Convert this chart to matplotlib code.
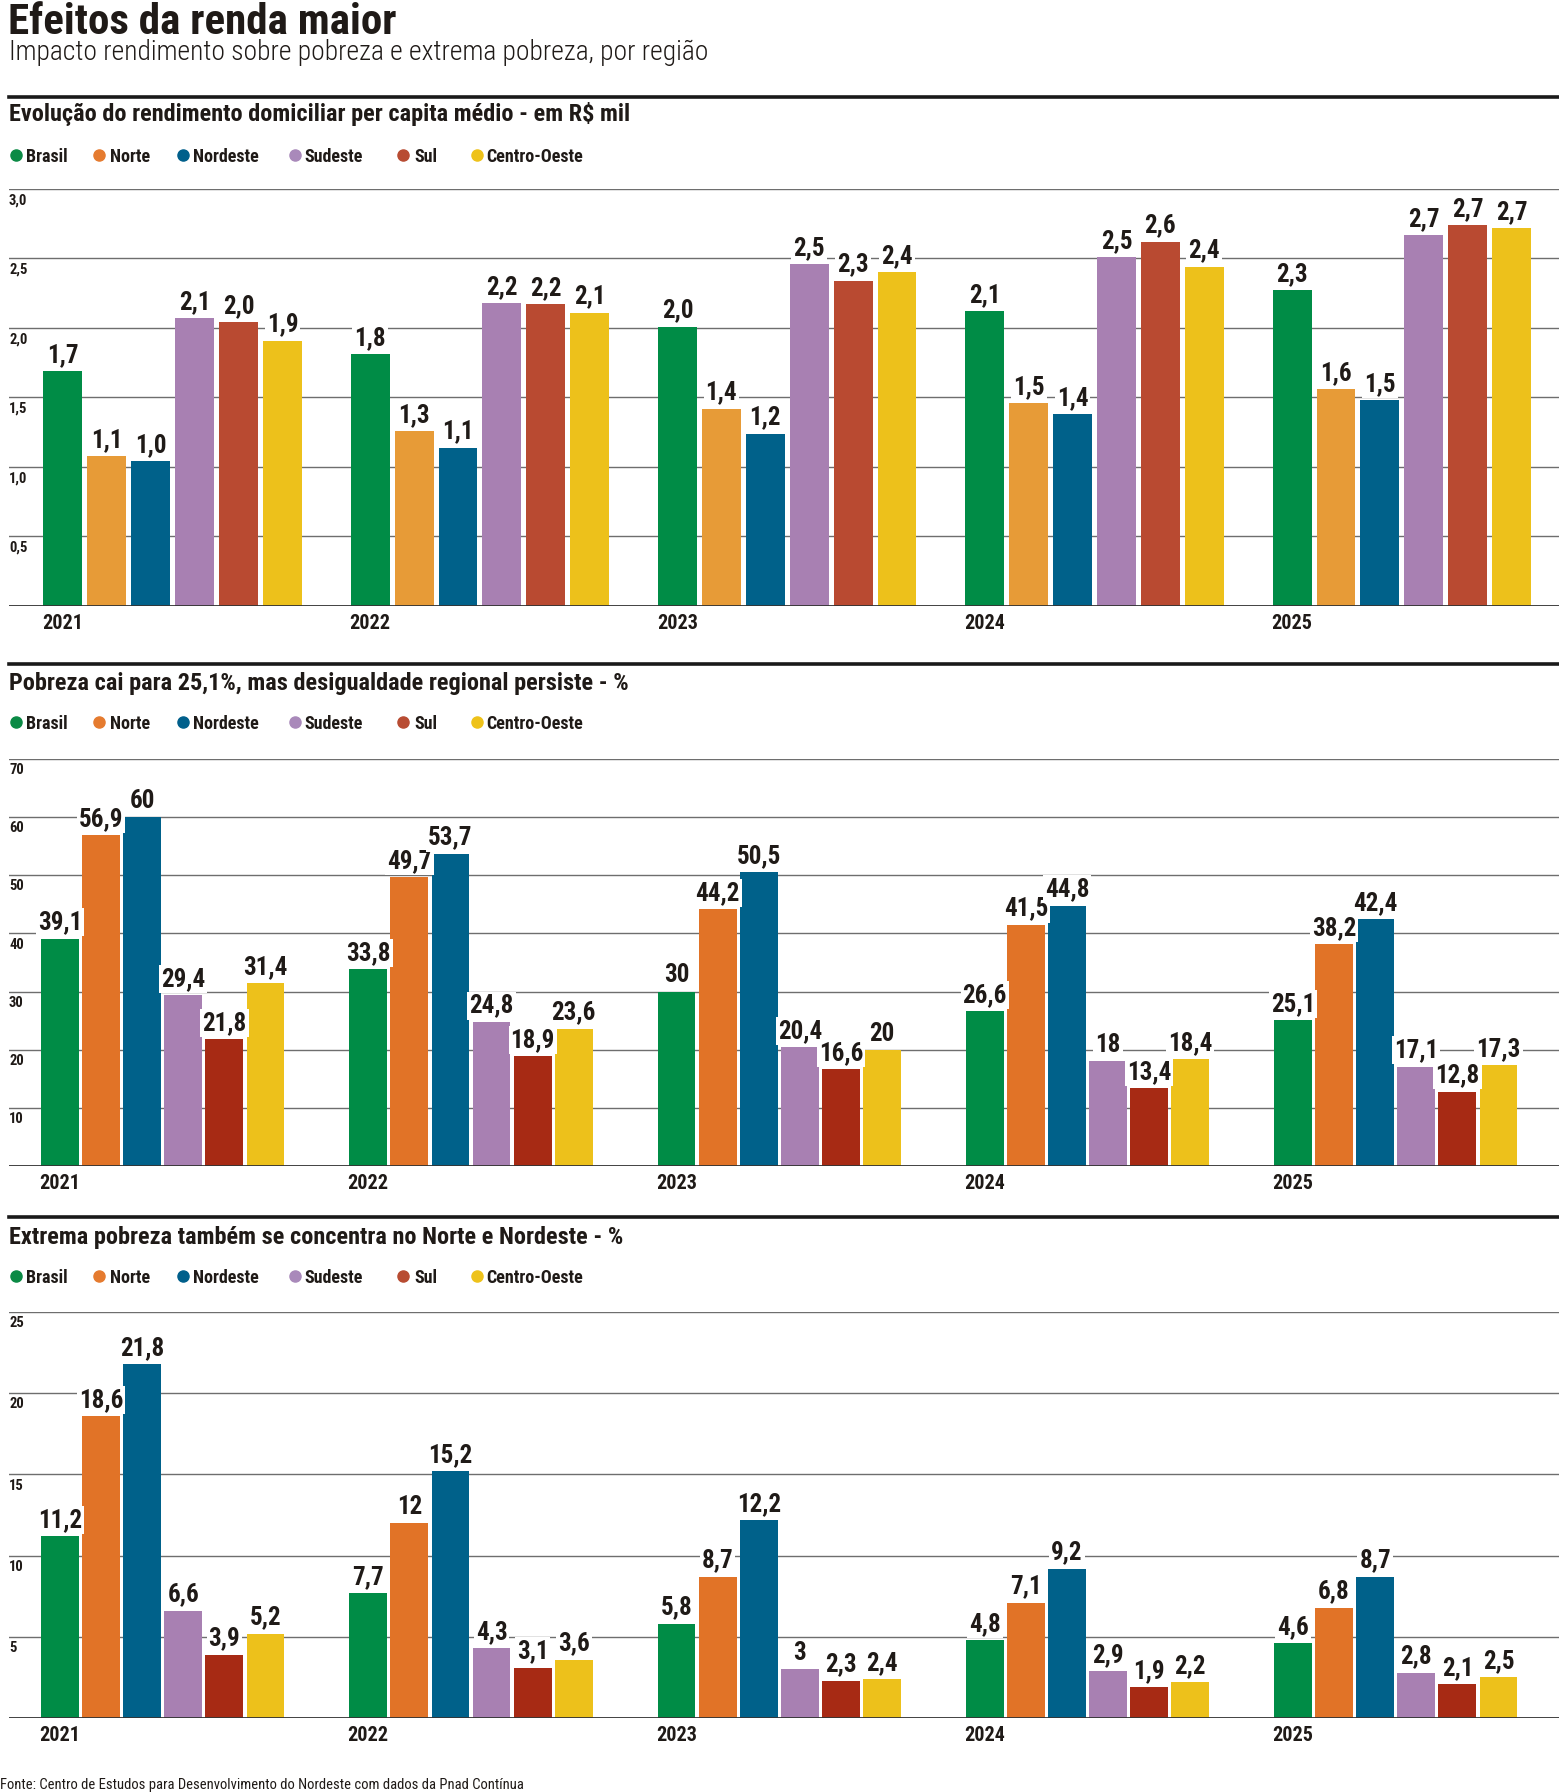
import matplotlib
matplotlib.use("Agg")
import matplotlib.pyplot as plt
from matplotlib import font_manager
from matplotlib.lines import Line2D

# fontes: condensada se existir
def pick(names):
    for n in names:
        try:
            font_manager.findfont(n, fallback_to_default=False)
            return n
        except Exception:
            pass
    return "DejaVu Sans"

COND = pick(["Liberation Sans Narrow", "Roboto Condensed", "Roboto"])
INK = "#1f1a17"

years = ["2021", "2022", "2023", "2024", "2025"]
regions = ["Brasil", "Norte", "Nordeste", "Sudeste", "Sul", "Centro-Oeste"]

# rendimento domiciliar per capita medio (R$ mil)
renda_brasil = [1.69, 1.81, 2.01, 2.12, 2.27]
renda_norte = [1.08, 1.26, 1.42, 1.46, 1.56]
renda_nordeste = [1.04, 1.14, 1.24, 1.38, 1.48]
renda_sudeste = [2.07, 2.18, 2.46, 2.51, 2.67]
renda_sul = [2.04, 2.17, 2.34, 2.62, 2.74]
renda_co = [1.91, 2.11, 2.40, 2.44, 2.72]

# pobreza (%)
pobreza_brasil = [39.1, 33.8, 30, 26.6, 25.1]
pobreza_norte = [56.9, 49.7, 44.2, 41.5, 38.2]
pobreza_nordeste = [60, 53.7, 50.5, 44.8, 42.4]
pobreza_sudeste = [29.4, 24.8, 20.4, 18, 17.1]
pobreza_sul = [21.8, 18.9, 16.6, 13.4, 12.8]
pobreza_co = [31.4, 23.6, 20, 18.4, 17.3]

# extrema pobreza (%)
extrema_brasil = [11.2, 7.7, 5.8, 4.8, 4.6]
extrema_norte = [18.6, 12, 8.7, 7.1, 6.8]
extrema_nordeste = [21.8, 15.2, 12.2, 9.2, 8.7]
extrema_sudeste = [6.6, 4.3, 3, 2.9, 2.8]
extrema_sul = [3.9, 3.1, 2.3, 1.9, 2.1]
extrema_co = [5.2, 3.6, 2.4, 2.2, 2.5]

renda_ticks = [0.5, 1.0, 1.5, 2.0, 2.5, 3.0]
pobreza_ticks = [10, 20, 30, 40, 50, 60, 70]
extrema_ticks = [5, 10, 15, 20, 25]

legend_colors = ["#0b8a45", "#e57b2f", "#005f8b", "#a989ba", "#b84c32", "#eec21a"]
colors_renda = ["#008c46", "#e79b37", "#00618a", "#a880b2", "#b94a31", "#edc11b"]
colors_pobreza = ["#008c46", "#e17327", "#00618a", "#a880b2", "#a72a14", "#edc11b"]

W, H = 1559, 1792
fig = plt.figure(figsize=(W / 100, H / 100), dpi=100)


def fx(x):
    return x / W


def fy(y):
    return 1 - y / H


def fmt1(v):
    return f"{v:.1f}".replace(".", ",")


def fmt_auto(v):
    if float(v).is_integer():
        return str(int(v))
    return fmt1(v)


def panel(title, rule_y, title_y, legend_y, top, bottom, series, colors, ticks,
          tickfmt, labfmt, group_step, bar_w, unit_px, first_px):
    # filete grosso + titulo da secao
    fig.add_artist(Line2D([fx(9), 1], [fy(rule_y)] * 2, color="#1a1a1a", lw=2.6,
                          transform=fig.transFigure))
    fig.text(fx(9), fy(title_y), title, fontsize=17.5, fontweight="bold",
             family=COND, color=INK, va="baseline")
    # legenda
    dots = [16, 99, 183, 295, 403, 477]
    txts = [26, 110, 193, 304, 414, 486]
    for name, c, dx, tx in zip(regions, legend_colors, dots, txts):
        fig.add_artist(Line2D([fx(dx)], [fy(legend_y)], marker="o", ms=8, color=c,
                              lw=0, transform=fig.transFigure))
        fig.text(fx(tx), fy(legend_y), name, fontsize=13, fontweight="bold",
                 family=COND, color=INK, va="center_baseline")

    ax = fig.add_axes([fx(9), fy(bottom), fx(W - 9), (bottom - top) / H])
    left = -(first_px - 9) / unit_px
    right = (W - first_px) / unit_px
    ax.set_xlim(left, right)
    ax.set_ylim(0, ticks[-1])
    ax.set_axis_off()

    for t in ticks:
        ax.axhline(t, color="#6e6e6e", lw=1.0, zorder=0.5)
        ax.annotate(tickfmt(t), (0, t), xycoords=("axes fraction", "data"),
                    xytext=(0, -3), textcoords="offset points", ha="left", va="top",
                    fontsize=10.5, fontweight="bold", family=COND, color=INK)
    ax.axhline(0, color="#333333", lw=1.3, zorder=4)

    for gi, yr in enumerate(years):
        base = gi * group_step
        for si, vals in enumerate(series):
            x = base + si
            v = vals[gi]
            ax.bar(x, v, width=bar_w, color=colors[si], zorder=2)
            ax.annotate(labfmt(v), (x, v), xytext=(0, 3), textcoords="offset points",
                        ha="center", va="bottom", fontsize=18, fontweight="bold",
                        family=COND, color=INK, zorder=3,
                        bbox=dict(boxstyle="square,pad=0.08", fc="white", ec="none"))
        ax.annotate(yr, (base, 0), xytext=(0, -6), textcoords="offset points",
                    ha="center", va="top", fontsize=14.5, fontweight="bold",
                    family=COND, color=INK, annotation_clip=False)
    return ax


# cabecalho
fig.text(fx(8), fy(34), "Efeitos da renda maior", fontsize=31, fontweight="heavy",
         family=COND, color=INK, va="baseline")
fig.text(fx(9), fy(60), "Impacto rendimento sobre pobreza e extrema pobreza, por região",
         fontsize=19.8, fontweight="light", family=COND, color=INK, va="baseline")

panel("Evolução do rendimento domiciliar per capita médio - em R$ mil",
      97, 121, 155, 189, 606,
      [renda_brasil, renda_norte, renda_nordeste, renda_sudeste, renda_sul, renda_co],
      colors_renda, renda_ticks, fmt1, fmt1, 7.0, 0.885, 43.9, 62.9)

panel("Pobreza cai para 25,1%, mas desigualdade regional persiste - %",
      664, 690, 722, 759, 1166,
      [pobreza_brasil, pobreza_norte, pobreza_nordeste, pobreza_sudeste, pobreza_sul, pobreza_co],
      colors_pobreza, pobreza_ticks, lambda t: str(t), fmt_auto, 7.5, 0.92, 41.1, 60.0)

panel("Extrema pobreza também se concentra no Norte e Nordeste - %",
      1217, 1244, 1276, 1312, 1718,
      [extrema_brasil, extrema_norte, extrema_nordeste, extrema_sudeste, extrema_sul, extrema_co],
      colors_pobreza, extrema_ticks, lambda t: str(t), fmt_auto, 7.5, 0.92, 41.1, 60.0)

fig.text(0, fy(1789), "Fonte: Centro de Estudos para Desenvolvimento do Nordeste com dados da Pnad Contínua",
         fontsize=10.5, family=COND, color=INK, va="baseline")

fig.savefig("out.png", dpi=100, facecolor="white")
